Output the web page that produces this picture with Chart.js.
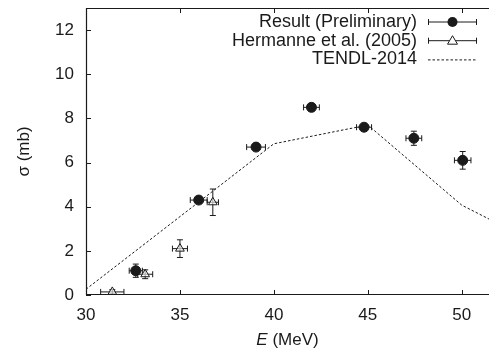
<!DOCTYPE html>
<html>
<head>
<meta charset="utf-8">
<script src="https://cdn.jsdelivr.net/npm/chart.js@4"></script>
<style>
  html, body { margin: 0; padding: 0; background: #fff; }
</style>
</head>
<body>
<canvas id="chart" width="489" height="351"></canvas>
<script>
// measured values
const resultE = [32.65, 36.0, 39.05, 42.0, 44.8, 47.45, 50.05];
const resultSigma = [1.1, 4.3, 6.7, 8.5, 7.6, 7.1, 6.1];
const resultErrE = [0.35, 0.45, 0.5, 0.42, 0.4, 0.42, 0.44];
const resultErrSigma = [0.3, 0.15, 0.12, 0.15, 0.12, 0.32, 0.4];

const hermE = [31.4, 33.15, 35.0, 36.75];
const hermSigma = [0.14, 0.94, 2.1, 4.2];
const hermErrE = [0.62, 0.4, 0.4, 0.3];
const hermErrSigma = [0.1, 0.2, 0.4, 0.6];

// TENDL-2014 evaluation
const tendlE = [30, 35, 40, 45, 50, 55];
const tendlSigma = [0.26, 3.55, 6.85, 7.7, 4.07, 1.9];

const xTicks = [30, 35, 40, 45, 50];
const yTicks = [0, 2, 4, 6, 8, 10, 12];

const INK = '#1a1a1a';
const FONT = '"Liberation Sans", Arial, sans-serif';

const toPoints = (xs, ys) => xs.map((x, i) => ({ x: x, y: ys[i] }));

const errorBars = {
    id: 'errorBars',
    beforeDatasetsDraw(chart) {
        const ctx = chart.ctx;
        const xs = chart.scales.x, ys = chart.scales.y;
        const sets = [
            [resultE, resultSigma, resultErrE, resultErrSigma],
            [hermE, hermSigma, hermErrE, hermErrSigma]
        ];
        ctx.save();
        ctx.strokeStyle = INK;
        ctx.lineWidth = 1;
        const cap = 3;
        sets.forEach(([ex, sy, dx, dy]) => {
            ex.forEach((e, i) => {
                const px = xs.getPixelForValue(e);
                const py = ys.getPixelForValue(sy[i]);
                const x0 = xs.getPixelForValue(e - dx[i]);
                const x1 = xs.getPixelForValue(e + dx[i]);
                const y0 = ys.getPixelForValue(sy[i] - dy[i]);
                const y1 = ys.getPixelForValue(sy[i] + dy[i]);
                ctx.beginPath();
                ctx.moveTo(x0, py); ctx.lineTo(x1, py);
                ctx.moveTo(x0, py - cap); ctx.lineTo(x0, py + cap);
                ctx.moveTo(x1, py - cap); ctx.lineTo(x1, py + cap);
                ctx.moveTo(px, y0); ctx.lineTo(px, y1);
                ctx.moveTo(px - cap, y0); ctx.lineTo(px + cap, y0);
                ctx.moveTo(px - cap, y1); ctx.lineTo(px + cap, y1);
                ctx.stroke();
            });
        });
        ctx.restore();
    }
};

const frame = {
    id: 'frame',
    afterDraw(chart) {
        const ctx = chart.ctx;
        const a = chart.chartArea;
        const xs = chart.scales.x, ys = chart.scales.y;
        const t = 5;
        ctx.save();
        ctx.strokeStyle = INK;
        ctx.lineWidth = 1.2;
        // right side of the box falls just past the picture edge
        ctx.beginPath();
        ctx.moveTo(a.right + 2, a.top + 0.5);
        ctx.lineTo(a.left + 0.5, a.top + 0.5);
        ctx.lineTo(a.left + 0.5, a.bottom - 0.5);
        ctx.lineTo(a.right + 2, a.bottom - 0.5);
        ctx.stroke();
        ctx.lineWidth = 1;
        ctx.beginPath();
        xTicks.forEach(v => {
            const px = Math.round(xs.getPixelForValue(v)) + 0.5;
            ctx.moveTo(px, a.bottom); ctx.lineTo(px, a.bottom - t);
            ctx.moveTo(px, a.top); ctx.lineTo(px, a.top + t);
        });
        yTicks.forEach(v => {
            const py = Math.round(ys.getPixelForValue(v)) + 0.5;
            ctx.moveTo(a.left, py); ctx.lineTo(a.left + t, py);
        });
        ctx.stroke();

        // axis titles
        ctx.fillStyle = INK;
        ctx.textBaseline = 'middle';
        ctx.font = 'italic 17px ' + FONT;
        const wE = ctx.measureText('E').width;
        ctx.font = '17px ' + FONT;
        const wRest = ctx.measureText(' (MeV)').width;
        const cx = (a.left + a.right) / 2;
        let x0 = cx - (wE + wRest) / 2;
        ctx.textAlign = 'left';
        ctx.font = 'italic 17px ' + FONT;
        ctx.fillText('E', x0, 340);
        ctx.font = '17px ' + FONT;
        ctx.fillText(' (MeV)', x0 + wE, 340);

        ctx.save();
        ctx.translate(24, (a.top + a.bottom) / 2);
        ctx.rotate(-Math.PI / 2);
        ctx.textAlign = 'center';
        ctx.fillText('\u03c3 (mb)', 0, 0);
        ctx.restore();

        // legend
        const rows = [
            { label: 'Result (Preliminary)', kind: 'circle' },
            { label: 'Hermanne et al. (2005)', kind: 'triangle' },
            { label: 'TENDL-2014', kind: 'dash' }
        ];
        const textRight = 417, s0 = 428, s1 = 477;
        rows.forEach((r, i) => {
            const y = 22 + i * 18.7;
            ctx.textAlign = 'right';
            ctx.fillStyle = INK;
            ctx.font = '18px ' + FONT;
            ctx.fillText(r.label, textRight, y);
            ctx.beginPath();
            ctx.lineWidth = 1;
            if (r.kind === 'dash') {
                ctx.setLineDash([2.5, 2]);
                ctx.moveTo(s0, y + 0.5); ctx.lineTo(s1, y + 0.5);
                ctx.stroke();
                ctx.setLineDash([]);
                return;
            }
            ctx.moveTo(s0, y); ctx.lineTo(s1, y);
            ctx.moveTo(s0 + 0.5, y - 3); ctx.lineTo(s0 + 0.5, y + 3);
            ctx.moveTo(s1 - 0.5, y - 3); ctx.lineTo(s1 - 0.5, y + 3);
            ctx.stroke();
            const mx = (s0 + s1) / 2;
            ctx.beginPath();
            if (r.kind === 'circle') {
                ctx.arc(mx, y, 5, 0, Math.PI * 2);
                ctx.fill();
            } else {
                ctx.moveTo(mx, y - 5); ctx.lineTo(mx + 5, y + 3.5); ctx.lineTo(mx - 5, y + 3.5);
                ctx.closePath();
                ctx.fillStyle = '#fff';
                ctx.fill();
                ctx.stroke();
            }
        });
        ctx.restore();
    }
};

const noPad = s => { s.paddingTop = 0; s.paddingBottom = 0; s.paddingLeft = 0; s.paddingRight = 0; };

new Chart(document.getElementById('chart'), {
    type: 'scatter',
    data: {
        datasets: [
            {
                label: 'Result (Preliminary)',
                data: toPoints(resultE, resultSigma),
                pointStyle: 'circle',
                pointRadius: 5,
                backgroundColor: INK,
                borderColor: INK,
                borderWidth: 1,
                order: 1
            },
            {
                label: 'Hermanne et al. (2005)',
                data: toPoints(hermE, hermSigma),
                pointStyle: 'triangle',
                pointRadius: 5,
                backgroundColor: 'rgba(255,255,255,0.6)',
                borderColor: INK,
                borderWidth: 1,
                order: 2
            },
            {
                label: 'TENDL-2014',
                data: toPoints(tendlE, tendlSigma),
                showLine: true,
                pointRadius: 0,
                borderColor: INK,
                borderWidth: 1,
                borderDash: [2.5, 2],
                fill: false,
                order: 3
            }
        ]
    },
    options: {
        responsive: false,
        animation: false,
        devicePixelRatio: 1,
        layout: { autoPadding: false, padding: { top: 8, right: 0, left: 0, bottom: 0 } },
        plugins: { legend: { display: false }, tooltip: { enabled: false } },
        scales: {
            x: {
                type: 'linear',
                min: 30,
                max: 51.45,
                afterBuildTicks: s => { s.ticks = xTicks.map(v => ({ value: v })); },
                afterFit: s => { s.height = 56; noPad(s); },
                grid: { display: false, drawTicks: false },
                border: { display: false },
                ticks: { color: INK, font: { family: FONT, size: 17 }, padding: 10 }
            },
            y: {
                type: 'linear',
                min: 0,
                max: 13,
                afterBuildTicks: s => { s.ticks = yTicks.map(v => ({ value: v })); },
                afterFit: s => { s.width = 86; noPad(s); },
                grid: { display: false, drawTicks: false },
                border: { display: false },
                ticks: { color: INK, font: { family: FONT, size: 17 }, padding: 12 }
            }
        }
    },
    plugins: [errorBars, frame]
});
</script>
</body>
</html>
